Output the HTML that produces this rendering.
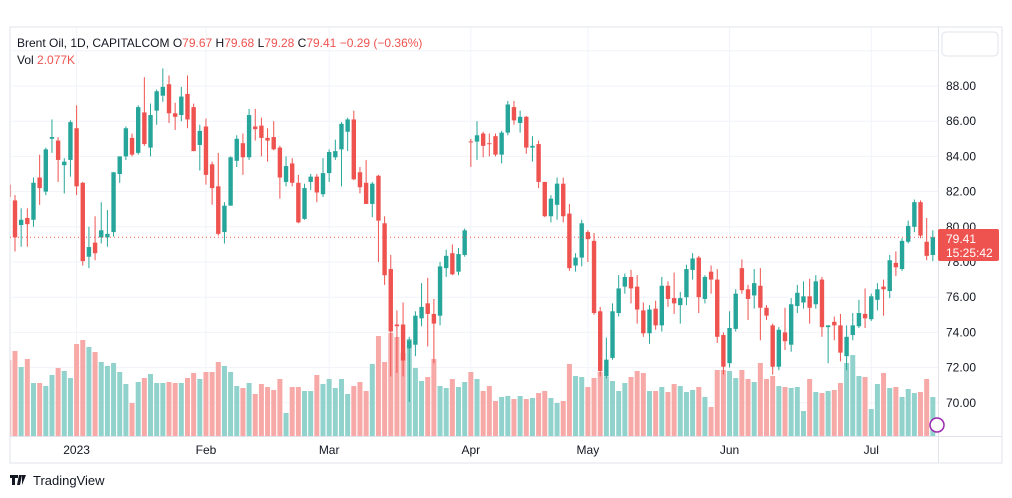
<!DOCTYPE html>
<html><head><meta charset="utf-8">
<style>
html,body{margin:0;padding:0;background:#fff;width:1012px;height:498px;overflow:hidden}
svg{display:block;font-family:"Liberation Sans",sans-serif}
</style></head><body>
<svg id="chart" width="1012" height="498" viewBox="0 0 1012 498" xmlns="http://www.w3.org/2000/svg">
<defs><clipPath id="plotclip"><rect x="10.5" y="27" width="928" height="409.5"/></clipPath></defs>
<rect x="10" y="27" width="992" height="436" fill="#fff" stroke="#e0e3eb"/>
<g id="grid"></g>
<g clip-path="url(#plotclip)">
<g id="vols"></g>
<g id="candles"></g>
</g>
<line x1="10" y1="237.2" x2="938" y2="237.2" stroke="#ef5350" stroke-dasharray="1,3" stroke-width="1"/>
<line x1="938.5" y1="27" x2="938.5" y2="463" stroke="#e0e3eb"/>
<line x1="10" y1="436.5" x2="1002" y2="436.5" stroke="#e0e3eb"/>
<g id="yticks"></g>
<g id="xticks"></g>
<rect x="942" y="32" width="56" height="24" rx="4" fill="#fff" stroke="#e0e3eb"/>
<g>
<rect x="938" y="229" width="61" height="32" rx="2" fill="#ef5350"/>
<text x="946" y="243" font-size="12" fill="#fff">79.41</text>
<text x="946" y="257" font-size="12" fill="#fff">15:25:42</text>
</g>
<circle cx="937" cy="425" r="7" fill="#fff" stroke="#9c27b0" stroke-width="1.5"/>
<text x="17" y="47" font-size="12" fill="#131722">Brent Oil, 1D, CAPITALCOM <tspan>O</tspan><tspan fill="#ef5350">79.67</tspan> <tspan>H</tspan><tspan fill="#ef5350">79.68</tspan> <tspan>L</tspan><tspan fill="#ef5350">79.28</tspan> <tspan>C</tspan><tspan fill="#ef5350">79.41</tspan> <tspan fill="#ef5350">−0.29 (−0.36%)</tspan></text>
<text x="17" y="64" font-size="12" fill="#131722">Vol <tspan fill="#ef5350">2.077K</tspan></text>
<g>
<path d="M10 475h8v3h-3v7h-3v-7h-2z M19 475h3l-2 10h-3z M22 475h4l-4 10z" fill="#131722"/>
<text x="33" y="485" font-size="13" fill="#131722">TradingView</text>
</g>
</svg>
<script>
const opens=[82.4,81.5,80.1,80.5,80.4,82.8,82,85,84.9,83.5,83.8,85.6,82.5,78.3,79.1,79.4,79.4,79.7,83,84,85.05,84.2,86.5,84.5,86.6,87.45,88.1,86.45,86.35,87.55,86.8,84.65,85.7,83.55,82.3,79.7,81.2,83.75,84.75,83.95,85.7,85.75,85.05,85.1,84.5,82.55,83.6,82.5,80.45,82.55,82.85,81.85,83.05,83.95,84.4,85.4,86.1,83.1,82.5,81.3,82.9,80.2,77.6,74.45,74.45,73.1,73.3,74.8,75.65,75.05,74.95,77.65,78.5,77.45,78.4,84.85,84.84,85.3,84.75,85.15,84.1,85.35,86.8,85.9,86.25,84.5,84.7,82.55,80.6,81.25,82.45,80.75,77.8,78.25,79.7,79.2,75.2,71.5,72.55,75.1,76.6,77.15,76.6,75.25,73.95,75.35,74.4,76.65,75.95,75.55,76,77.55,78.25,75.9,77.45,77,73.85,72.25,74.2,77.65,76.45,76.1,76.65,75.4,74.4,72.05,74,73.3,75.5,75.7,76.05,75.6,77,74.3,74.6,74.4,72.65,73.85,74.35,75.05,74.75,75.85,76.6,76.35,77.95,77.6,79.15,80,81.4,79.15,78.4];
const highs=[82.7,81.8,81.05,81.05,82.8,84.1,84.5,86.1,85.1,83.9,86.05,86.9,82.55,80,80.6,81.4,80.95,83.1,84,85.7,85.3,86.9,88.5,87,87.8,89,88.6,87.05,87.95,88.6,87,85.8,86.15,83.7,84.2,81.4,84,85.2,85.3,86.7,86.7,86.2,85.6,86,84.6,84,83.9,82.95,82.45,83,83,83.9,84.4,84.95,85.95,86.2,86.6,83.4,83.8,82.55,82.95,80.6,78.4,75.25,75.7,73.75,75.2,76.8,77.1,75.9,78,78.7,79,78.8,79.9,85,86,85.4,85.3,85.3,85.45,87.15,87.15,86.6,86.3,85.15,84.9,82.55,81.8,82.8,82.8,81.3,78.5,80.4,79.8,79.65,75.45,73.7,75.65,77.25,77.35,77.55,77.25,75.7,75.55,75.8,77.15,76.9,77.4,76.3,77.85,78.5,78.35,77.25,77.8,77.6,74,75.2,76.45,78.15,76.7,77.6,77.65,75.55,74.5,74.3,75.4,75.95,76.7,76.9,77.05,77.25,77.15,74.4,74.9,75.05,74.4,75.1,75.85,76.5,76.2,76.8,77,78.4,78.6,79.35,80.35,81.55,81.5,80.5,79.8];
const lows=[81.5,78.6,78.87,78.87,80,81.25,81.8,84.2,82.55,81.9,82.85,81.8,77.8,77.65,78.1,79.05,78.87,79.45,82.5,83.8,84,84.1,84.6,84,85.8,87.1,85.9,85.5,86,85.6,84.3,83.2,82.4,81.25,79.5,79.05,81.2,83.4,82.95,83.8,84.9,84,83.7,84.35,81.6,82.3,82.3,80.2,80.4,82.1,81.4,81.7,82.55,83.8,82.3,84.3,82.65,81.9,81.3,80.55,78,76.7,71.5,71.7,71.5,70.05,72.65,74.35,73.2,72.25,74.4,77.15,77.25,77.25,78.3,83.4,83.8,83.95,84,84,83.6,85.2,85.8,85.35,84.15,83.7,82.2,80.55,80.25,80.4,80.25,77.5,77.45,77.75,78,75,71.5,71.4,72.45,74.9,76.2,75.65,74.5,73.75,73.35,74.15,74.05,75.45,75.05,74.5,75.55,77,75.1,75.65,76.2,73.4,71.6,72,74.05,76.2,74.7,75.35,73.55,74.7,71.6,71.85,73,72.9,75.1,75.35,74.5,75.35,73.75,72.25,73.55,72.35,71.85,73.55,74.25,74.25,74.65,75.25,74.95,75.95,77.2,77.5,79.05,79.7,79.35,78.1,78.05];
const closes=[81.7,79.4,80.4,80.15,82.5,82.2,84.4,85.1,83.8,83.7,85.95,82.3,78.05,78.85,78.5,79.8,79.6,83.1,84,85.6,84.1,86.8,84.7,86.35,87.7,87.95,86.45,86.25,87.4,86.1,84.3,85.45,82.95,82.2,79.6,81.2,83.95,85,83.95,86.35,85.55,85.05,84.9,84.4,82.8,83.45,82.5,80.25,82.2,82.85,81.95,83.05,84.25,84.3,85.85,86.1,82.7,82.25,81.3,82.45,80.35,77.25,74.05,74.35,72.4,73.55,74.95,75.45,75.05,74.5,77.75,78.35,77.3,78.45,79.8,84.8,85.2,84.6,84.7,84.1,85.35,86.95,86.05,86.25,84.5,84.6,82.55,80.6,81.6,82.45,80.6,77.65,78.25,80.2,79.3,75.1,71.8,72.45,75.2,76.5,77.15,76.5,75.3,73.95,75.3,74.4,76.65,75.9,75.65,75.95,77.6,78.2,76,77.15,77,73.75,72.05,74.25,76.2,76.4,75.9,76.8,75.4,74.95,72.05,74.15,73.5,75.6,76.25,76.05,75.4,76.9,74.3,74.4,74.4,72.85,73.75,74.4,75.1,74.8,76.05,76.45,76.45,78.1,77.7,79.2,80.05,81.4,79.5,78.35,79.41];
const volumes=[76,85,69,77,53,53,50,61,68,65,58,92,96,89,84,74,70,73,64,52,33,54,58,62,53,53,54,53,53,58,63,57,64,64,74,70,64,50,48,53,42,52,49,46,57,23,49,49,45,45,61,52,57,48,57,42,50,54,45,72,100,74,103,99,83,97,68,55,59,77,50,48,57,49,54,64,57,45,50,35,39,40,37,40,37,38,43,45,38,33,35,72,60,59,49,58,64,59,55,45,53,59,65,63,45,45,49,44,52,50,44,46,49,39,29,66,66,65,58,66,57,54,73,57,60,50,49,48,49,25,57,44,43,45,46,53,73,81,60,59,27,52,63,48,49,39,47,43,44,57,39];
const priceTicks=["88.00","86.00","84.00","82.00","80.00","78.00","76.00","74.00","72.00","70.00"];
const priceTickValues=[88,86,84,82,80,78,76,74,72,70];
const timeLabels=["2023","Feb","Mar","Apr","May","Jun","Jul"];
const timeLabelIndex=[11,32,52,75,94,117,140];

const NS="http://www.w3.org/2000/svg";
const X0=8.84, DX=6.16;
function xAt(i){return X0+DX*i;}
function yAt(p){return 86+(88-p)*17.6;}
function vH(v){return v;}
function mk(tag,attrs,parent){const e=document.createElementNS(NS,tag);for(const k in attrs)e.setAttribute(k,attrs[k]);parent.appendChild(e);return e;}
const grid=document.getElementById('grid'),cg=document.getElementById('candles'),vg=document.getElementById('vols'),yt=document.getElementById('yticks'),xt=document.getElementById('xticks');
mk('line',{x1:10,y1:yAt(90),x2:938,y2:yAt(90),stroke:'#f0f3fa'},grid);
priceTickValues.forEach((p,k)=>{
  const l=mk('line',{x1:10,y1:yAt(p),x2:938,y2:yAt(p),stroke:'#f0f3fa'},grid);
  
  
  const t=mk('text',{x:946,y:yAt(p)+4,'font-size':12,fill:'#131722'},yt);
  t.textContent=priceTicks[k];
  
  
});
timeLabels.forEach((s,k)=>{
  const x=xAt(timeLabelIndex[k]);
  const l=mk('line',{x1:x,y1:27,x2:x,y2:436,stroke:'#f0f3fa'},grid);
  
  
  const t=mk('text',{x:x,y:454,'font-size':12,fill:'#131722','text-anchor':'middle'},xt);
  t.textContent=s;
  
  
});
closes.forEach((c,i)=>{
  const o=opens[i],up=c>=o,x=xAt(i);
  const col=up?'#26a69a':'#ef5350';
  const vb=mk('rect',{x:x-2.5,y:436-vH(volumes[i]),width:5,height:vH(volumes[i]),fill:up?'#92d2cc':'#f7a9a7'},vg);
  
  
  const g=mk('g',{},cg);
  
  
  mk('line',{x1:x,x2:x,y1:yAt(highs[i]),y2:yAt(lows[i]),stroke:col,'stroke-width':1},g);
  const top=yAt(Math.max(o,c)),bot=yAt(Math.min(o,c));
  mk('rect',{x:x-2.2,y:top,width:4.4,height:Math.max(1,bot-top),fill:col},g);
});
</script>
</body></html>
